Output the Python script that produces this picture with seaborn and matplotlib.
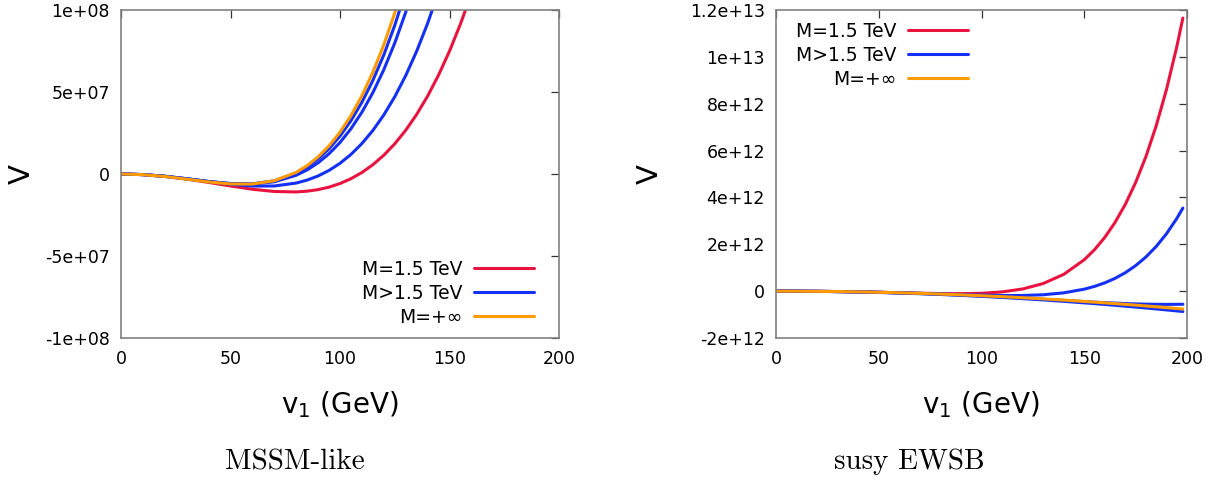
import matplotlib
matplotlib.use("Agg")
import matplotlib.pyplot as plt
from matplotlib.lines import Line2D
from matplotlib.ticker import FixedLocator, FixedFormatter
import pandas as pd
import seaborn as sns

# ---------------- data ----------------
# shared x ticks
x_ticks = [0, 50, 100, 150, 200]
x_ticklabels = ["0", "50", "100", "150", "200"]

# MSSM-like panel, V in units of 1e6
v1_mssm = [0, 10, 20, 30, 40, 50, 60, 70, 80, 85, 90, 95, 100, 105, 110,
           115, 120, 125, 130, 135, 140, 145, 150, 155, 160]
mssm_red = [0, -0.37, -1.43, -3.09, -5.14, -7.32, -9.30, -10.67, -10.93, -10.47,
            -9.53, -8.00, -5.81, -2.87, 0.92, 5.66, 11.45, 18.42, 26.66, 36.31,
            47.48, 60.31, 74.93, 91.47, 110.08]
mssm_blue_c = [0, -0.35, -1.35, -2.85, -4.60, -6.25, -7.34, -7.31, -5.51, -3.72,
               -1.19, 2.18, 6.51, 11.93, 18.56, 26.53, 36.00, 47.10, 60.00, 74.85,
               91.82, 111.08]
mssm_blue_b = [0, -0.37, -1.41, -2.92, -4.55, -5.83, -6.15, -4.76, -0.77, 2.51,
               6.83, 12.35, 19.21, 27.59, 37.66, 49.60, 63.60, 79.87, 98.61, 120.04]
mssm_blue_a = [0, -0.38, -1.46, -3.00, -4.64, -5.85, -5.97, -4.17, 0.51, 4.27,
               9.18, 15.41, 23.12, 32.50, 43.74, 57.04, 72.60, 90.65, 111.41]
mssm_orange = [0, -0.40, -1.53, -3.14, -4.85, -6.08, -6.12, -4.10, 1.02, 5.11,
               10.43, 17.17, 25.49, 35.61, 47.72, 62.04, 78.78, 98.19, 120.51]
mssm_yticks = [-1e8, -5e7, 0, 5e7, 1e8]
mssm_yticklabels = ["-1e+08", "-5e+07", "0", "5e+07", "1e+08"]

# susy EWSB panel, V in units of 1e12
v1_susy = [0, 10, 20, 30, 40, 50, 60, 70, 80, 90, 100, 110, 120, 130, 140, 150,
           155, 160, 165, 170, 175, 180, 185, 190, 195, 198]
susy_red = [0, -0.002, -0.008, -0.018, -0.030, -0.047, -0.066, -0.087, -0.103, -0.108,
            -0.091, -0.033, 0.092, 0.324, 0.716, 1.340, 1.770, 2.295, 2.935, 3.707,
            4.636, 5.741, 7.055, 8.602, 10.42, 11.656]
susy_blue_up = [0, -0.002, -0.008, -0.018, -0.031, -0.049, -0.070, -0.094, -0.121, -0.147,
                -0.171, -0.187, -0.185, -0.154, -0.073, 0.084, 0.203, 0.354, 0.547, 0.788,
                1.089, 1.457, 1.905, 2.447, 3.097, 3.546]
susy_blue_mid = [0, -0.002, -0.008, -0.018, -0.033, -0.051, -0.074, -0.100, -0.131, -0.166,
                 -0.205, -0.248, -0.295, -0.345, -0.398, -0.445, -0.470, -0.490, -0.510, -0.530,
                 -0.545, -0.555, -0.562, -0.565, -0.563, -0.560]
susy_blue_low = [0, -0.002, -0.009, -0.020, -0.036, -0.056, -0.080, -0.109, -0.142, -0.180,
                 -0.222, -0.269, -0.320, -0.375, -0.435, -0.500, -0.533, -0.568, -0.604, -0.642,
                 -0.680, -0.719, -0.760, -0.801, -0.844, -0.870]
susy_orange = [0, -0.002, -0.008, -0.018, -0.031, -0.049, -0.070, -0.096, -0.125, -0.158,
               -0.195, -0.236, -0.281, -0.330, -0.382, -0.439, -0.468, -0.499, -0.531, -0.564,
               -0.597, -0.632, -0.667, -0.704, -0.741, -0.764]
susy_yticks = [-2e12, 0, 2e12, 4e12, 6e12, 8e12, 1e13, 1.2e13]
susy_yticklabels = ["-2e+12", "0", "2e+12", "4e+12", "6e+12", "8e+12", "1e+13", "1.2e+13"]

legend_labels = ["M=1.5 TeV", "M>1.5 TeV", "M=+\u221e"]

RED = "#e8133f"
BLUE = "#1530f5"
ORANGE = "#ff9a00"


def long_frame(x, series, scale):
    rows = []
    for name, vals in series.items():
        for xv, yv in zip(x, vals):
            rows.append((name, xv, yv * scale))
    return pd.DataFrame(rows, columns=["curve", "v1", "V"])


df_mssm = long_frame(v1_mssm, {"red": mssm_red, "blue_c": mssm_blue_c, "blue_b": mssm_blue_b,
                               "blue_a": mssm_blue_a, "orange": mssm_orange}, 1e6)
df_susy = long_frame(v1_susy, {"red": susy_red, "blue_up": susy_blue_up, "blue_mid": susy_blue_mid,
                               "blue_low": susy_blue_low, "orange": susy_orange}, 1e12)

sns.set_style("white")
plt.rcParams["font.family"] = ["DejaVu Sans"]
plt.rcParams["text.color"] = "black"
plt.rcParams["axes.labelcolor"] = "black"

fig = plt.figure(figsize=(12.29, 4.84), dpi=100)
W, H = 1229.0, 484.0
ax1 = fig.add_axes([121 / W, 1 - 338 / H, 438 / W, 328 / H])
ax2 = fig.add_axes([776 / W, 1 - 338 / H, 411 / W, 328 / H])

pal1 = {"red": RED, "blue_c": BLUE, "blue_b": BLUE, "blue_a": BLUE, "orange": ORANGE}
pal2 = {"red": RED, "blue_up": BLUE, "blue_mid": BLUE, "blue_low": BLUE, "orange": ORANGE}

sns.lineplot(data=df_mssm, x="v1", y="V", hue="curve", palette=pal1, hue_order=list(pal1),
             estimator=None, sort=False, legend=False, linewidth=2.2, ax=ax1)
sns.lineplot(data=df_susy, x="v1", y="V", hue="curve", palette=pal2, hue_order=list(pal2),
             estimator=None, sort=False, legend=False, linewidth=2.2, ax=ax2)


def style_axes(ax, yticks, yticklabels):
    ax.set_xlim(0, 200)
    ax.set_ylim(yticks[0], yticks[-1])
    ax.xaxis.set_major_locator(FixedLocator(x_ticks))
    ax.xaxis.set_major_formatter(FixedFormatter(x_ticklabels))
    ax.yaxis.set_major_locator(FixedLocator(yticks))
    ax.yaxis.set_major_formatter(FixedFormatter(yticklabels))
    ax.tick_params(direction="in", top=True, right=True, length=6, width=0.9,
                   color="#333333", labelsize=12.5, labelcolor="black")
    ax.tick_params(axis="x", pad=9)
    ax.tick_params(axis="y", pad=8)
    for s in ax.spines.values():
        s.set_visible(True)
        s.set_color("#808080")
        s.set_linewidth(1.2)
    ax.set_xlabel("")
    ax.set_ylabel("")


style_axes(ax1, mssm_yticks, mssm_yticklabels)
style_axes(ax2, susy_yticks, susy_yticklabels)

handles = [Line2D([], [], color=c, lw=2.2) for c in (RED, BLUE, ORANGE)]
leg_kw = dict(bbox_transform=fig.transFigure, loc="upper right", frameon=False, markerfirst=False,
              handlelength=3.2, handletextpad=0.6, labelspacing=0.26, borderpad=0,
              borderaxespad=0, fontsize=13.5)
ax1.legend(handles, legend_labels, bbox_to_anchor=(534 / W, 1 - 260 / H), **leg_kw)
ax2.legend(handles, legend_labels, bbox_to_anchor=(968 / W, 1 - 22 / H), **leg_kw)

# axis labels and panel captions
for xc, ylx in [(340, 22), (981, 650)]:
    fig.text(xc / W, 1 - 405 / H, r"v$_1$ (GeV)", ha="center", va="center", fontsize=20, color="black")
    fig.text(ylx / W, 1 - 174 / H, "V", ha="center", va="center", rotation=90, fontsize=21, color="black")
fig.text(295 / W, 1 - 462 / H, "MSSM-like", ha="center", va="center", fontsize=21, family="cmr10", color="black")
fig.text(909 / W, 1 - 462 / H, "susy EWSB", ha="center", va="center", fontsize=21, family="cmr10", color="black")

fig.savefig("out.png", dpi=100)
